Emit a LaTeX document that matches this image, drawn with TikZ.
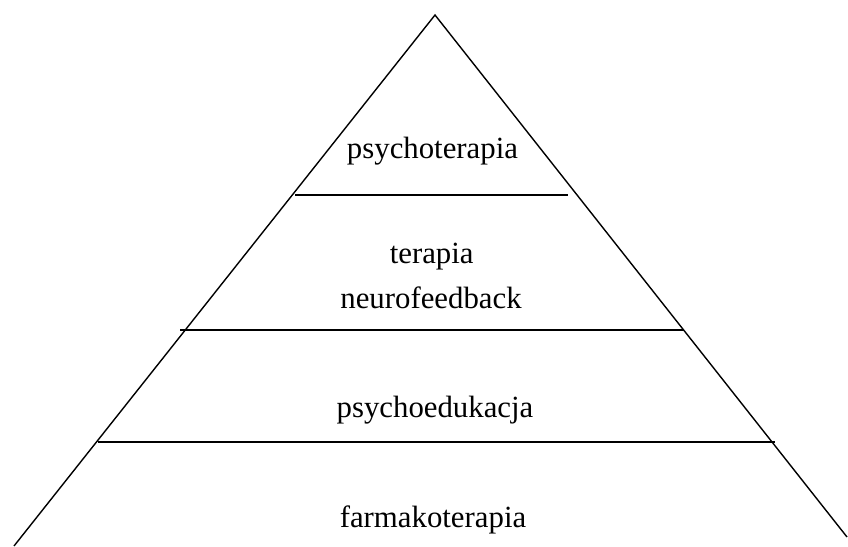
\documentclass[tikz,border=0pt]{standalone}
\usepackage{fontspec}
\setmainfont{Liberation Serif}
\begin{document}
\begin{tikzpicture}[x=1pt,y=-1pt,
  lbl/.style={anchor=base,inner sep=0pt,font=\fontsize{30.8}{36}\selectfont},
  ln/.style={line width=1.4pt,black}]
\useasboundingbox (0,0) rectangle (848,546);
\coordinate (apex) at (435,15);
\coordinate (bl) at (14,546);
\coordinate (br) at (847,537);
\draw[ln,line join=miter] (bl) -- (apex) -- (br);
\coordinate (l1a) at (295,195); \coordinate (l1b) at (568,195);
\coordinate (l2a) at (180,330); \coordinate (l2b) at (684,330);
\coordinate (l3a) at (98,442); \coordinate (l3b) at (775,442);
\draw[ln] (l1a) -- (l1b);
\draw[ln] (l2a) -- (l2b);
\draw[ln] (l3a) -- (l3b);
\node[lbl] (t1) at (432.5,158) {psychoterapia};
\node[lbl] (t2) at (431.7,263) {terapia};
\node[lbl] (t3) at (431,308) {neurofeedback};
\node[lbl] (t4) at (435,417) {psychoedukacja};
\node[lbl] (t5) at (433,527) {farmakoterapia};
\end{tikzpicture}
\end{document}
